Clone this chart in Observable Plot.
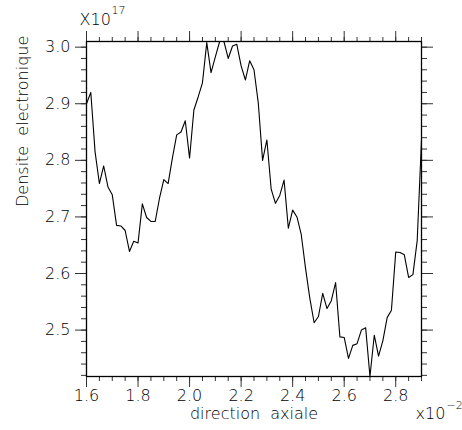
<!DOCTYPE html>
<html>
<head>
<meta charset="utf-8">
<script src="https://cdn.jsdelivr.net/npm/d3@7"></script>
<script src="https://cdn.jsdelivr.net/npm/@observablehq/plot@0.6"></script>
<style>
  html, body { margin: 0; padding: 0; background: #fff; }
</style>
</head>
<body>
<div id="chart"></div>
<script>
// Axial position (x10^-2) and electron density (x10^17)
const position = [
  1.6, 1.6167, 1.6333, 1.65, 1.6667, 1.6833, 1.7, 1.7167, 1.7333, 1.75,
  1.7667, 1.7833, 1.8, 1.8167, 1.8333, 1.85, 1.8667, 1.8833, 1.9, 1.9167,
  1.9333, 1.95, 1.9667, 1.9833, 2.0, 2.0167, 2.0333, 2.05, 2.0667, 2.0833,
  2.1, 2.1167, 2.1333, 2.15, 2.1667, 2.1833, 2.2, 2.2167, 2.2333, 2.25,
  2.2667, 2.2833, 2.3, 2.3167, 2.3333, 2.35, 2.3667, 2.3833, 2.4, 2.4167,
  2.4333, 2.45, 2.4667, 2.4833, 2.5, 2.5167, 2.5333, 2.55, 2.5667, 2.5833,
  2.6, 2.6167, 2.6333, 2.65, 2.6667, 2.6833, 2.7, 2.7167, 2.7333, 2.75,
  2.7667, 2.7833, 2.8, 2.8167, 2.8333, 2.85, 2.8667, 2.8833, 2.9
];
const density = [
  2.900, 2.920, 2.815, 2.759, 2.790, 2.753, 2.739, 2.685, 2.684, 2.676,
  2.639, 2.657, 2.654, 2.723, 2.699, 2.692, 2.692, 2.733, 2.766, 2.759,
  2.804, 2.845, 2.850, 2.870, 2.804, 2.889, 2.912, 2.937, 3.008, 2.955,
  2.983, 3.010, 3.010, 2.980, 3.002, 3.005, 2.967, 2.942, 2.976, 2.960,
  2.901, 2.800, 2.836, 2.749, 2.724, 2.738, 2.765, 2.680, 2.712, 2.700,
  2.669, 2.609, 2.556, 2.513, 2.524, 2.565, 2.538, 2.552, 2.584, 2.488,
  2.487, 2.450, 2.473, 2.476, 2.500, 2.504, 2.418, 2.491, 2.454, 2.481,
  2.522, 2.535, 2.638, 2.637, 2.633, 2.593, 2.598, 2.658, 2.836
];

const xMajorTicks = [1.6, 1.8, 2.0, 2.2, 2.4, 2.6, 2.8];
const yMajorTicks = [2.5, 2.6, 2.7, 2.8, 2.9, 3.0];
const xMinorStep = 0.05;
const yMinorStep = 0.02;

const xLabel = "direction  axiale";
const yLabel = "Densite  electronique";
const yExpBase = "X10", yExp = "17";
const xExpBase = "x10", xExp = "\u22122";

const table = position.map((p, i) => ({position: p, density: density[i]}));
const xDomain = [1.6, 2.9];
const yDomain = d3.extent(density);

const xMinor = d3.range(0, Math.round((xDomain[1] - xDomain[0]) / xMinorStep) + 1)
  .map(i => +(xDomain[0] + i * xMinorStep).toFixed(3));
const yMinor = d3.range(0, 30).map(i => +(2.42 + i * yMinorStep).toFixed(3));

const tickColor = "#333";
const fmt = d => d.toFixed(1);

const chart = Plot.plot({
  width: 462,
  height: 430,
  marginLeft: 86,
  marginRight: 41,
  marginTop: 41,
  marginBottom: 54,
  style: {fontFamily: "DejaVu Sans", fontSize: "16px", fontWeight: 200, background: "#fff", color: "#000"},
  x: {domain: xDomain},
  y: {domain: yDomain},
  marks: [
    // bottom
    Plot.axisX(xMinor, {anchor: "bottom", tickSize: 5, tickFormat: () => "", label: null, stroke: tickColor}),
    Plot.axisX(xMajorTicks, {anchor: "bottom", tickSize: 11, tickPadding: 2, tickFormat: fmt, label: null, stroke: tickColor}),
    // top
    Plot.axisX(xMinor, {anchor: "top", tickSize: 5, tickFormat: () => "", label: null, stroke: tickColor}),
    Plot.axisX(xMajorTicks, {anchor: "top", tickSize: 11, tickFormat: () => "", label: null, stroke: tickColor}),
    // left
    Plot.axisY(yMinor, {anchor: "left", tickSize: 5, tickFormat: () => "", label: null, stroke: tickColor}),
    Plot.axisY(yMajorTicks, {anchor: "left", tickSize: 11, tickPadding: 5, tickFormat: fmt, label: null, stroke: tickColor}),
    // right
    Plot.axisY(yMinor, {anchor: "right", tickSize: 5, tickFormat: () => "", label: null, stroke: tickColor}),
    Plot.axisY(yMajorTicks, {anchor: "right", tickSize: 11, tickFormat: () => "", label: null, stroke: tickColor}),
    Plot.frame({stroke: "#000", strokeWidth: 1.3}),
    Plot.line(table, {x: "position", y: "density", stroke: "#000", strokeWidth: 1.1}),
    // axis titles
    Plot.text([xLabel], {frameAnchor: "bottom", dy: 37, fontSize: 16, text: d => d, lineAnchor: "middle"}),
    Plot.text([yLabel], {frameAnchor: "left", dx: -64, dy: -2, rotate: -90, fontSize: 16, text: d => d, lineAnchor: "middle"}),
    // exponents
    Plot.text([yExpBase], {frameAnchor: "top-left", dx: -7, dy: -22, textAnchor: "start", lineAnchor: "middle", fontSize: 16, text: d => d}),
    Plot.text([yExp], {frameAnchor: "top-left", dx: 25, dy: -31, textAnchor: "start", lineAnchor: "middle", fontSize: 11, text: d => d}),
    Plot.text([xExpBase], {frameAnchor: "bottom-right", dx: -6, dy: 37, textAnchor: "start", lineAnchor: "middle", fontSize: 16, text: d => d}),
    Plot.text([xExp], {frameAnchor: "bottom-right", dx: 25, dy: 29, textAnchor: "start", lineAnchor: "middle", fontSize: 11, text: d => d})
  ]
});

document.getElementById("chart").appendChild(chart);
</script>
</body>
</html>
